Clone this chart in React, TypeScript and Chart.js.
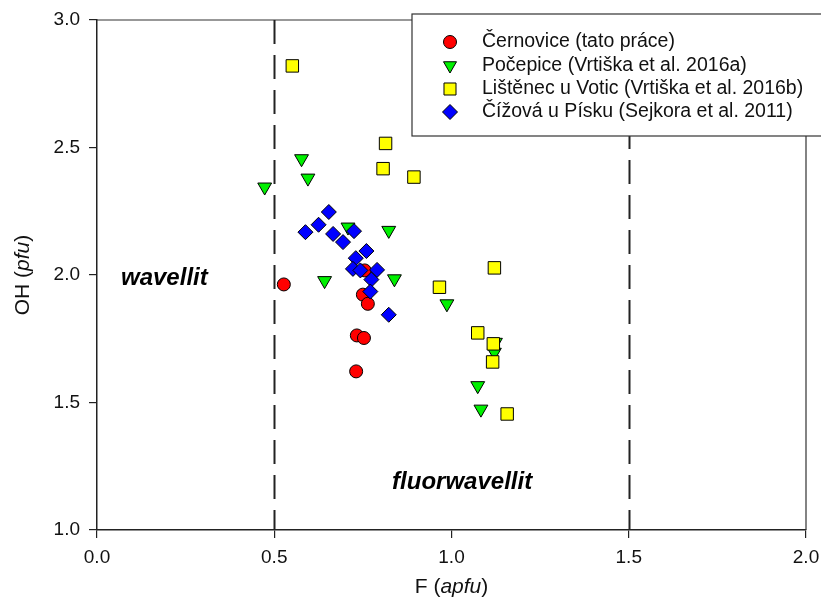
import React, { useEffect, useRef } from "react";
import { Chart, registerables } from "chart.js";

Chart.register(...registerables);

const xTicks = [0, 0.5, 1.0, 1.5, 2.0];
const yTicks = [1.0, 1.5, 2.0, 2.5, 3.0];

const seriesNames = [
  "Černovice (tato práce)",
  "Počepice (Vrtiška et al. 2016a)",
  "Lištěnec u Votic (Vrtiška et al. 2016b)",
  "Čížová u Písku (Sejkora et al. 2011)",
];

const cernoviceF = [0.527, 0.755, 0.75, 0.764, 0.733, 0.753, 0.731];
const cernoviceOH = [1.963, 2.018, 1.923, 1.887, 1.763, 1.753, 1.622];

const pocepiceF = [0.577, 0.595, 0.473, 0.708, 0.823, 0.642, 0.839, 0.987, 1.124, 1.121, 1.074, 1.083];
const pocepiceOH = [2.456, 2.38, 2.345, 2.188, 2.175, 1.978, 1.985, 1.887, 1.736, 1.697, 1.566, 1.474];

const listenecF = [0.551, 0.814, 0.807, 0.894, 1.121, 0.966, 1.074, 1.118, 1.116, 1.157];
const listenecOH = [2.82, 2.516, 2.417, 2.384, 2.028, 1.952, 1.773, 1.73, 1.659, 1.455];

const cizovaF = [0.654, 0.625, 0.588, 0.666, 0.725, 0.694, 0.76, 0.73, 0.722, 0.743, 0.79, 0.774, 0.771, 0.823];
const cizovaOH = [2.247, 2.197, 2.168, 2.161, 2.172, 2.129, 2.094, 2.066, 2.024, 2.018, 2.02, 1.982, 1.935, 1.844];

const boundaryLines = [0.5, 1.5];
const fieldLabels = [
  { text: "wavellit", x: 0.19, y: 1.985 },
  { text: "fluorwavellit", x: 1.03, y: 1.185 },
];

const FONT = "'Liberation Sans', Arial, sans-serif";

const toPts = (xs: number[], ys: number[]) => xs.map((x, i) => ({ x, y: ys[i] }));

const styles = [
  { color: "#ff0000", point: "circle", radius: 6.5, rotation: 0, legendR: 6.5 },
  { color: "#00f000", point: "triangle", radius: 8, rotation: 180, legendR: 7.5 },
  { color: "#ffff00", point: "rect", radius: 8.8, rotation: 0, legendR: 8.5 },
  { color: "#0000ff", point: "rectRot", radius: 7.5, rotation: 0, legendR: 7.5 },
];

function drawMarker(ctx: CanvasRenderingContext2D, kind: string, x: number, y: number, r: number, fill: string) {
  ctx.save();
  ctx.fillStyle = fill;
  ctx.strokeStyle = "#000";
  ctx.lineWidth = 1;
  ctx.beginPath();
  if (kind === "circle") {
    ctx.arc(x, y, r, 0, Math.PI * 2);
  } else if (kind === "triangle") {
    const w = r * Math.sin(Math.PI / 3);
    ctx.moveTo(x - w, y - r / 2);
    ctx.lineTo(x + w, y - r / 2);
    ctx.lineTo(x, y + r);
    ctx.closePath();
  } else if (kind === "rect") {
    const s = r / Math.SQRT2;
    ctx.rect(x - s, y - s, 2 * s, 2 * s);
  } else {
    ctx.moveTo(x, y - r);
    ctx.lineTo(x + r, y);
    ctx.lineTo(x, y + r);
    ctx.lineTo(x - r, y);
    ctx.closePath();
  }
  ctx.fill();
  ctx.stroke();
  ctx.restore();
}

const decorPlugin = {
  id: "decor",
  beforeDatasetsDraw(chart: any) {
    const { ctx, chartArea, scales } = chart;
    ctx.save();
    ctx.strokeStyle = "#333";
    ctx.lineWidth = 1.2;
    ctx.beginPath();
    ctx.moveTo(chartArea.left, chartArea.top);
    ctx.lineTo(chartArea.right, chartArea.top);
    ctx.lineTo(chartArea.right, chartArea.bottom);
    ctx.stroke();
    ctx.setLineDash([24, 11]);
    ctx.lineWidth = 2;
    ctx.strokeStyle = "#222";
    boundaryLines.forEach((v) => {
      const px = Math.round(scales.x.getPixelForValue(v)) + 0.5;
      ctx.beginPath();
      ctx.moveTo(px, chartArea.top);
      ctx.lineTo(px, chartArea.bottom);
      ctx.stroke();
    });
    ctx.setLineDash([]);
    ctx.fillStyle = "#000";
    ctx.font = `italic bold 24px ${FONT}`;
    ctx.textAlign = "center";
    ctx.textBaseline = "middle";
    fieldLabels.forEach((l) => {
      ctx.fillText(l.text, scales.x.getPixelForValue(l.x), scales.y.getPixelForValue(l.y));
    });
    ctx.restore();
  },
  afterDraw(chart: any) {
    const { ctx, chartArea } = chart;
    ctx.save();
    const drawMixed = (parts: { t: string; it: boolean }[], size: number) => {
      let total = 0;
      parts.forEach((p) => {
        ctx.font = `${p.it ? "italic " : ""}${size}px ${FONT}`;
        total += ctx.measureText(p.t).width;
      });
      let x = -total / 2;
      parts.forEach((p) => {
        ctx.font = `${p.it ? "italic " : ""}${size}px ${FONT}`;
        ctx.fillText(p.t, x, 0);
        x += ctx.measureText(p.t).width;
      });
    };
    ctx.fillStyle = "#111";
    ctx.textAlign = "left";
    ctx.textBaseline = "middle";
    ctx.save();
    ctx.translate((chartArea.left + chartArea.right) / 2, 587);
    drawMixed([{ t: "F (", it: false }, { t: "apfu", it: true }, { t: ")", it: false }], 21);
    ctx.restore();
    ctx.save();
    ctx.translate(23, (chartArea.top + chartArea.bottom) / 2);
    ctx.rotate(-Math.PI / 2);
    drawMixed([{ t: "OH (", it: false }, { t: "pfu", it: true }, { t: ")", it: false }], 21);
    ctx.restore();

    ctx.fillStyle = "#fff";
    ctx.strokeStyle = "#333";
    ctx.lineWidth = 1.2;
    ctx.fillRect(412, 14, 420, 122);
    ctx.strokeRect(412, 14, 420, 122);
    const rowsY = [42, 65.5, 89, 112];
    seriesNames.forEach((name, i) => {
      const s = styles[i];
      drawMarker(ctx, s.point, 450, rowsY[i], s.legendR, s.color);
      ctx.fillStyle = "#111";
      ctx.font = `19.5px ${FONT}`;
      ctx.textAlign = "left";
      ctx.textBaseline = "middle";
      ctx.fillText(name, 482, rowsY[i]);
    });
    ctx.restore();
  },
};

export default function App() {
  const ref = useRef<HTMLCanvasElement>(null);
  useEffect(() => {
    if (!ref.current) return;
    const sets = [
      toPts(cernoviceF, cernoviceOH),
      toPts(pocepiceF, pocepiceOH),
      toPts(listenecF, listenecOH),
      toPts(cizovaF, cizovaOH),
    ];
    const orders = [2, 3, 1, 0];
    const chart = new Chart(ref.current, {
      type: "scatter",
      data: {
        datasets: sets.map((d, i) => ({
          label: seriesNames[i],
          data: d,
          order: orders[i],
          backgroundColor: styles[i].color,
          borderColor: "#000",
          borderWidth: 1,
          pointStyle: styles[i].point as any,
          pointRadius: styles[i].radius,
          pointRotation: styles[i].rotation,
          pointHoverRadius: styles[i].radius,
        })),
      },
      options: {
        responsive: false,
        animation: false,
        events: [],
        layout: { padding: { left: 0, top: 20, right: 15, bottom: 0 } },
        plugins: { legend: { display: false }, tooltip: { enabled: false } },
        scales: {
          x: {
            type: "linear",
            min: 0,
            max: 2,
            afterBuildTicks: (s: any) => {
              s.ticks = xTicks.map((v) => ({ value: v }));
            },
            afterFit: (s: any) => {
              s.height = 69;
              s.paddingLeft = 0;
              s.paddingRight = 0;
            },
            ticks: {
              color: "#111",
              font: { family: FONT, size: 19 },
              padding: 8,
              callback: (v: any) => Number(v).toFixed(1),
            },
            grid: { drawOnChartArea: false, drawTicks: true, tickLength: 8, color: "#222", lineWidth: 1.2 },
            border: { display: true, color: "#222", width: 1.5 },
          },
          y: {
            type: "linear",
            min: 1,
            max: 3,
            afterBuildTicks: (s: any) => {
              s.ticks = yTicks.map((v) => ({ value: v }));
            },
            afterFit: (s: any) => {
              s.width = 97;
              s.paddingTop = 0;
              s.paddingBottom = 0;
            },
            ticks: {
              color: "#111",
              font: { family: FONT, size: 19 },
              padding: 9,
              callback: (v: any) => Number(v).toFixed(1),
            },
            grid: { drawOnChartArea: false, drawTicks: true, tickLength: 8, color: "#222", lineWidth: 1.2 },
            border: { display: true, color: "#222", width: 1.5 },
          },
        },
      },
      plugins: [decorPlugin],
    });
    return () => chart.destroy();
  }, []);
  return (
    <div style={{ position: "fixed", left: 0, top: 0, width: 821, height: 599, background: "#fff" }}>
      <canvas ref={ref} width={821} height={599} style={{ display: "block" }} />
    </div>
  );
}
